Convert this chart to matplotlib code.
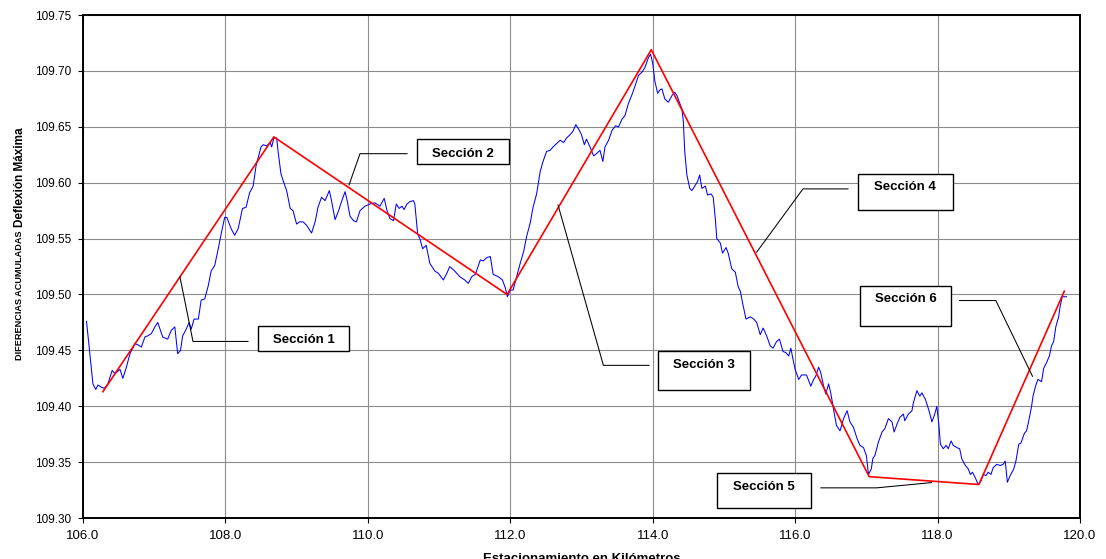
import numpy as np
import matplotlib as mpl
mpl.use('Agg')
import matplotlib.pyplot as plt
from matplotlib.patches import Rectangle

# estacionamiento (km) y diferencias acumuladas
km = [106.05, 106.14, 106.18, 106.21, 106.26, 106.30, 106.35, 106.41, 106.45, 106.52,
      106.56, 106.61, 106.66, 106.73, 106.77, 106.82, 106.87, 106.91, 106.96, 107.01,
      107.05, 107.12, 107.19, 107.24, 107.29, 107.33, 107.37, 107.40, 107.45, 107.49,
      107.52, 107.56, 107.62, 107.66, 107.71, 107.76, 107.80, 107.85, 107.90, 107.94,
      107.99, 108.02, 108.08, 108.13, 108.18, 108.24, 108.29, 108.34, 108.39, 108.43,
      108.50, 108.53, 108.58, 108.63, 108.65, 108.68, 108.72, 108.74, 108.78, 108.81,
      108.86, 108.91, 108.95, 109.00, 109.04, 109.09, 109.14, 109.21, 109.26, 109.30,
      109.35, 109.40, 109.46, 109.49, 109.54, 109.59, 109.63, 109.68, 109.71, 109.75,
      109.80, 109.84, 109.89, 109.96, 110.03, 110.10, 110.17, 110.23, 110.27, 110.31,
      110.36, 110.40, 110.44, 110.48, 110.51, 110.55, 110.59, 110.64, 110.66, 110.70,
      110.73, 110.77, 110.82, 110.87, 110.94, 110.99, 111.06, 111.11, 111.15, 111.22,
      111.29, 111.36, 111.41, 111.46, 111.51, 111.58, 111.62, 111.67, 111.72, 111.76,
      111.83, 111.89, 111.93, 111.96, 112.00, 112.04, 112.09, 112.14, 112.19, 112.23,
      112.28, 112.32, 112.37, 112.42, 112.46, 112.51, 112.56, 112.60, 112.65, 112.70,
      112.75, 112.79, 112.84, 112.88, 112.92, 112.96, 113.00, 113.04, 113.07, 113.12,
      113.17, 113.21, 113.26, 113.30, 113.33, 113.38, 113.43, 113.48, 113.52, 113.57,
      113.61, 113.66, 113.71, 113.76, 113.80, 113.85, 113.89, 113.94, 113.97, 114.00,
      114.03, 114.07, 114.10, 114.13, 114.17, 114.22, 114.27, 114.31, 114.34, 114.41,
      114.43, 114.45, 114.48, 114.52, 114.55, 114.60, 114.63, 114.66, 114.69, 114.74,
      114.77, 114.82, 114.85, 114.88, 114.90, 114.95, 114.98, 115.03, 115.06, 115.11,
      115.16, 115.20, 115.23, 115.27, 115.31, 115.37, 115.42, 115.46, 115.51, 115.55,
      115.60, 115.65, 115.69, 115.74, 115.78, 115.83, 115.87, 115.91, 115.94, 115.97,
      116.00, 116.05, 116.09, 116.16, 116.22, 116.26, 116.29, 116.33, 116.36, 116.40,
      116.43, 116.47, 116.50, 116.54, 116.58, 116.63, 116.68, 116.73, 116.77, 116.82,
      116.87, 116.91, 116.96, 117.00, 117.03, 117.07, 117.09, 117.12, 117.17, 117.22,
      117.26, 117.31, 117.36, 117.39, 117.43, 117.47, 117.52, 117.54, 117.59, 117.64,
      117.66, 117.71, 117.75, 117.78, 117.83, 117.88, 117.92, 117.96, 117.99, 118.02,
      118.04, 118.08, 118.12, 118.15, 118.19, 118.22, 118.27, 118.31, 118.34, 118.39,
      118.43, 118.46, 118.49, 118.53, 118.57, 118.61, 118.64, 118.68, 118.71, 118.75,
      118.78, 118.83, 118.88, 118.92, 118.95, 118.98, 119.02, 119.07, 119.10, 119.14,
      119.17, 119.22, 119.25, 119.29, 119.32, 119.34, 119.38, 119.41, 119.46, 119.49,
      119.53, 119.57, 119.60, 119.63, 119.66, 119.70, 119.72, 119.75, 119.79, 119.81]

dif_acum = [109.476, 109.420, 109.415, 109.419, 109.417, 109.416, 109.420, 109.432, 109.429, 109.433,
            109.425, 109.435, 109.447, 109.456, 109.455, 109.453, 109.462, 109.463, 109.465, 109.471,
            109.475, 109.462, 109.460, 109.468, 109.471, 109.447, 109.450, 109.463, 109.469, 109.475,
            109.469, 109.478, 109.478, 109.495, 109.496, 109.508, 109.521, 109.526, 109.541, 109.554,
            109.569, 109.569, 109.559, 109.553, 109.559, 109.577, 109.578, 109.591, 109.597, 109.615,
            109.632, 109.634, 109.633, 109.636, 109.632, 109.640, 109.640, 109.628, 109.608, 109.602,
            109.593, 109.577, 109.575, 109.563, 109.565, 109.565, 109.562, 109.555, 109.565, 109.578,
            109.587, 109.584, 109.593, 109.584, 109.567, 109.575, 109.583, 109.592, 109.584, 109.570,
            109.566, 109.565, 109.575, 109.579, 109.581, 109.582, 109.579, 109.586, 109.575, 109.568,
            109.566, 109.581, 109.577, 109.579, 109.576, 109.581, 109.583, 109.584, 109.581, 109.554,
            109.550, 109.541, 109.544, 109.528, 109.521, 109.519, 109.513, 109.519, 109.525, 109.521,
            109.516, 109.513, 109.510, 109.516, 109.518, 109.531, 109.530, 109.533, 109.534, 109.518,
            109.516, 109.513, 109.506, 109.498, 109.504, 109.504, 109.516, 109.528, 109.539, 109.552,
            109.564, 109.578, 109.590, 109.610, 109.619, 109.628, 109.629, 109.632, 109.635, 109.638,
            109.636, 109.640, 109.643, 109.646, 109.652, 109.648, 109.643, 109.634, 109.639, 109.632,
            109.624, 109.626, 109.629, 109.619, 109.632, 109.638, 109.647, 109.651, 109.650, 109.657,
            109.660, 109.671, 109.679, 109.688, 109.696, 109.699, 109.703, 109.712, 109.715, 109.707,
            109.691, 109.680, 109.683, 109.684, 109.675, 109.672, 109.678, 109.681, 109.678, 109.666,
            109.655, 109.628, 109.607, 109.595, 109.593, 109.598, 109.601, 109.607, 109.595, 109.597,
            109.589, 109.590, 109.587, 109.567, 109.550, 109.546, 109.537, 109.542, 109.537, 109.523,
            109.520, 109.507, 109.503, 109.490, 109.478, 109.480, 109.478, 109.475, 109.464, 109.470,
            109.463, 109.454, 109.452, 109.458, 109.460, 109.449, 109.448, 109.445, 109.452, 109.442,
            109.433, 109.424, 109.428, 109.428, 109.418, 109.424, 109.427, 109.435, 109.430, 109.418,
            109.411, 109.420, 109.412, 109.397, 109.383, 109.378, 109.389, 109.396, 109.386, 109.381,
            109.371, 109.365, 109.363, 109.356, 109.339, 109.344, 109.353, 109.356, 109.368, 109.377,
            109.380, 109.389, 109.386, 109.377, 109.384, 109.390, 109.393, 109.387, 109.393, 109.396,
            109.403, 109.414, 109.409, 109.412, 109.406, 109.396, 109.386, 109.393, 109.400, 109.382,
            109.366, 109.362, 109.365, 109.362, 109.369, 109.365, 109.363, 109.362, 109.353, 109.347,
            109.344, 109.339, 109.341, 109.336, 109.330, 109.333, 109.339, 109.338, 109.341, 109.339,
            109.345, 109.348, 109.347, 109.348, 109.351, 109.332, 109.338, 109.344, 109.351, 109.366,
            109.367, 109.376, 109.378, 109.390, 109.400, 109.409, 109.419, 109.424, 109.422, 109.434,
            109.439, 109.445, 109.454, 109.458, 109.471, 109.480, 109.489, 109.498, 109.498, 109.498]

# vertices de las secciones homogeneas
sec_km = [106.28, 108.68, 111.955, 113.98, 117.04, 118.58, 119.78]
sec_val = [109.413, 109.641, 109.500, 109.719, 109.337, 109.330, 109.503]

sec_labels = ['Sección 1', 'Sección 2', 'Sección 3', 'Sección 4', 'Sección 5', 'Sección 6']

# caja (x0, x1, y0, y1), altura del texto, linea guia
boxes = [(108.458, 109.736, 109.4491, 109.4714), (110.691, 111.983, 109.6170, 109.6393),
         (114.080, 115.370, 109.4149, 109.4496), (116.883, 118.213, 109.5754, 109.6078),
         (114.899, 116.229, 109.3089, 109.3400), (116.907, 118.191, 109.4715, 109.5080)]
text_y = [109.459, 109.626, 109.4372, 109.596, 109.328, 109.496]
leaders = [([107.362, 107.545, 108.317], [109.5158, 109.458, 109.458]),
           ([109.736, 109.890, 110.551], [109.598, 109.626, 109.626]),
           ([112.671, 113.308, 113.949], [109.580, 109.4366, 109.4366]),
           ([115.459, 116.110, 116.742], [109.5378, 109.5945, 109.5945]),
           ([116.361, 117.145, 117.914], [109.327, 109.327, 109.3317]),
           ([118.307, 118.818, 119.333], [109.4946, 109.4946, 109.4268])]

plt.rcParams['font.family'] = ['Liberation Sans', 'DejaVu Sans']

fig = plt.figure(figsize=(11.06, 5.59), dpi=100)
ax = fig.add_axes([0.075, 0.0733, 0.9015, 0.8997])

ax.plot(km, dif_acum, color='#0000FF', lw=0.75, zorder=3)
ax.plot(sec_km, sec_val, color='#FF0000', lw=1.2, zorder=4)

for lab, (x0, x1, y0, y1), ty, (lx, ly) in zip(sec_labels, boxes, text_y, leaders):
    ax.plot(lx, ly, color='black', lw=0.75, zorder=5)
    ax.add_patch(Rectangle((x0, y0), x1 - x0, y1 - y0, facecolor='white',
                           edgecolor='black', lw=1.0, zorder=6))
    ax.text((x0 + x1) / 2, ty, lab, ha='center', va='center', fontsize=9.5,
            fontweight='bold', zorder=7)

ax.set_xlim(106, 120)
ax.set_ylim(109.30, 109.75)
ax.set_xticks(np.arange(106, 120.1, 2))
ax.set_xticklabels(['%.1f' % v for v in np.arange(106, 120.1, 2)], fontsize=9.5)
ax.set_yticks(np.arange(109.30, 109.751, 0.05))
ax.set_yticklabels(['%.2f' % v for v in np.arange(109.30, 109.751, 0.05)], fontsize=8.5)
ax.grid(True, color='#8c8c8c', lw=0.8)
ax.set_axisbelow(True)
ax.tick_params(axis='both', direction='out', length=3.5, width=0.8, colors='black', pad=5)
for s in ax.spines.values():
    s.set_linewidth(1.4)
    s.set_color('black')

# titulo del eje y en dos tamanos, uno tras otro
t1 = fig.text(0.0177, 0.356, 'DIFERENCIAS ACUMULADAS', rotation=90, ha='center',
              va='bottom', fontsize=6.6, fontweight='bold')
fig.canvas.draw()
bb = t1.get_window_extent().transformed(fig.transFigure.inverted())
fig.text(0.0177, bb.y1 + 0.006, 'Deflexión Máxima', rotation=90, ha='center',
         va='bottom', fontsize=8.5, fontweight='bold')
fig.text(0.526, 0.0107, 'Estacionamiento en Kilómetros', ha='center', va='top',
         fontsize=9.5, fontweight='bold')

fig.savefig('out.png', dpi=100)
